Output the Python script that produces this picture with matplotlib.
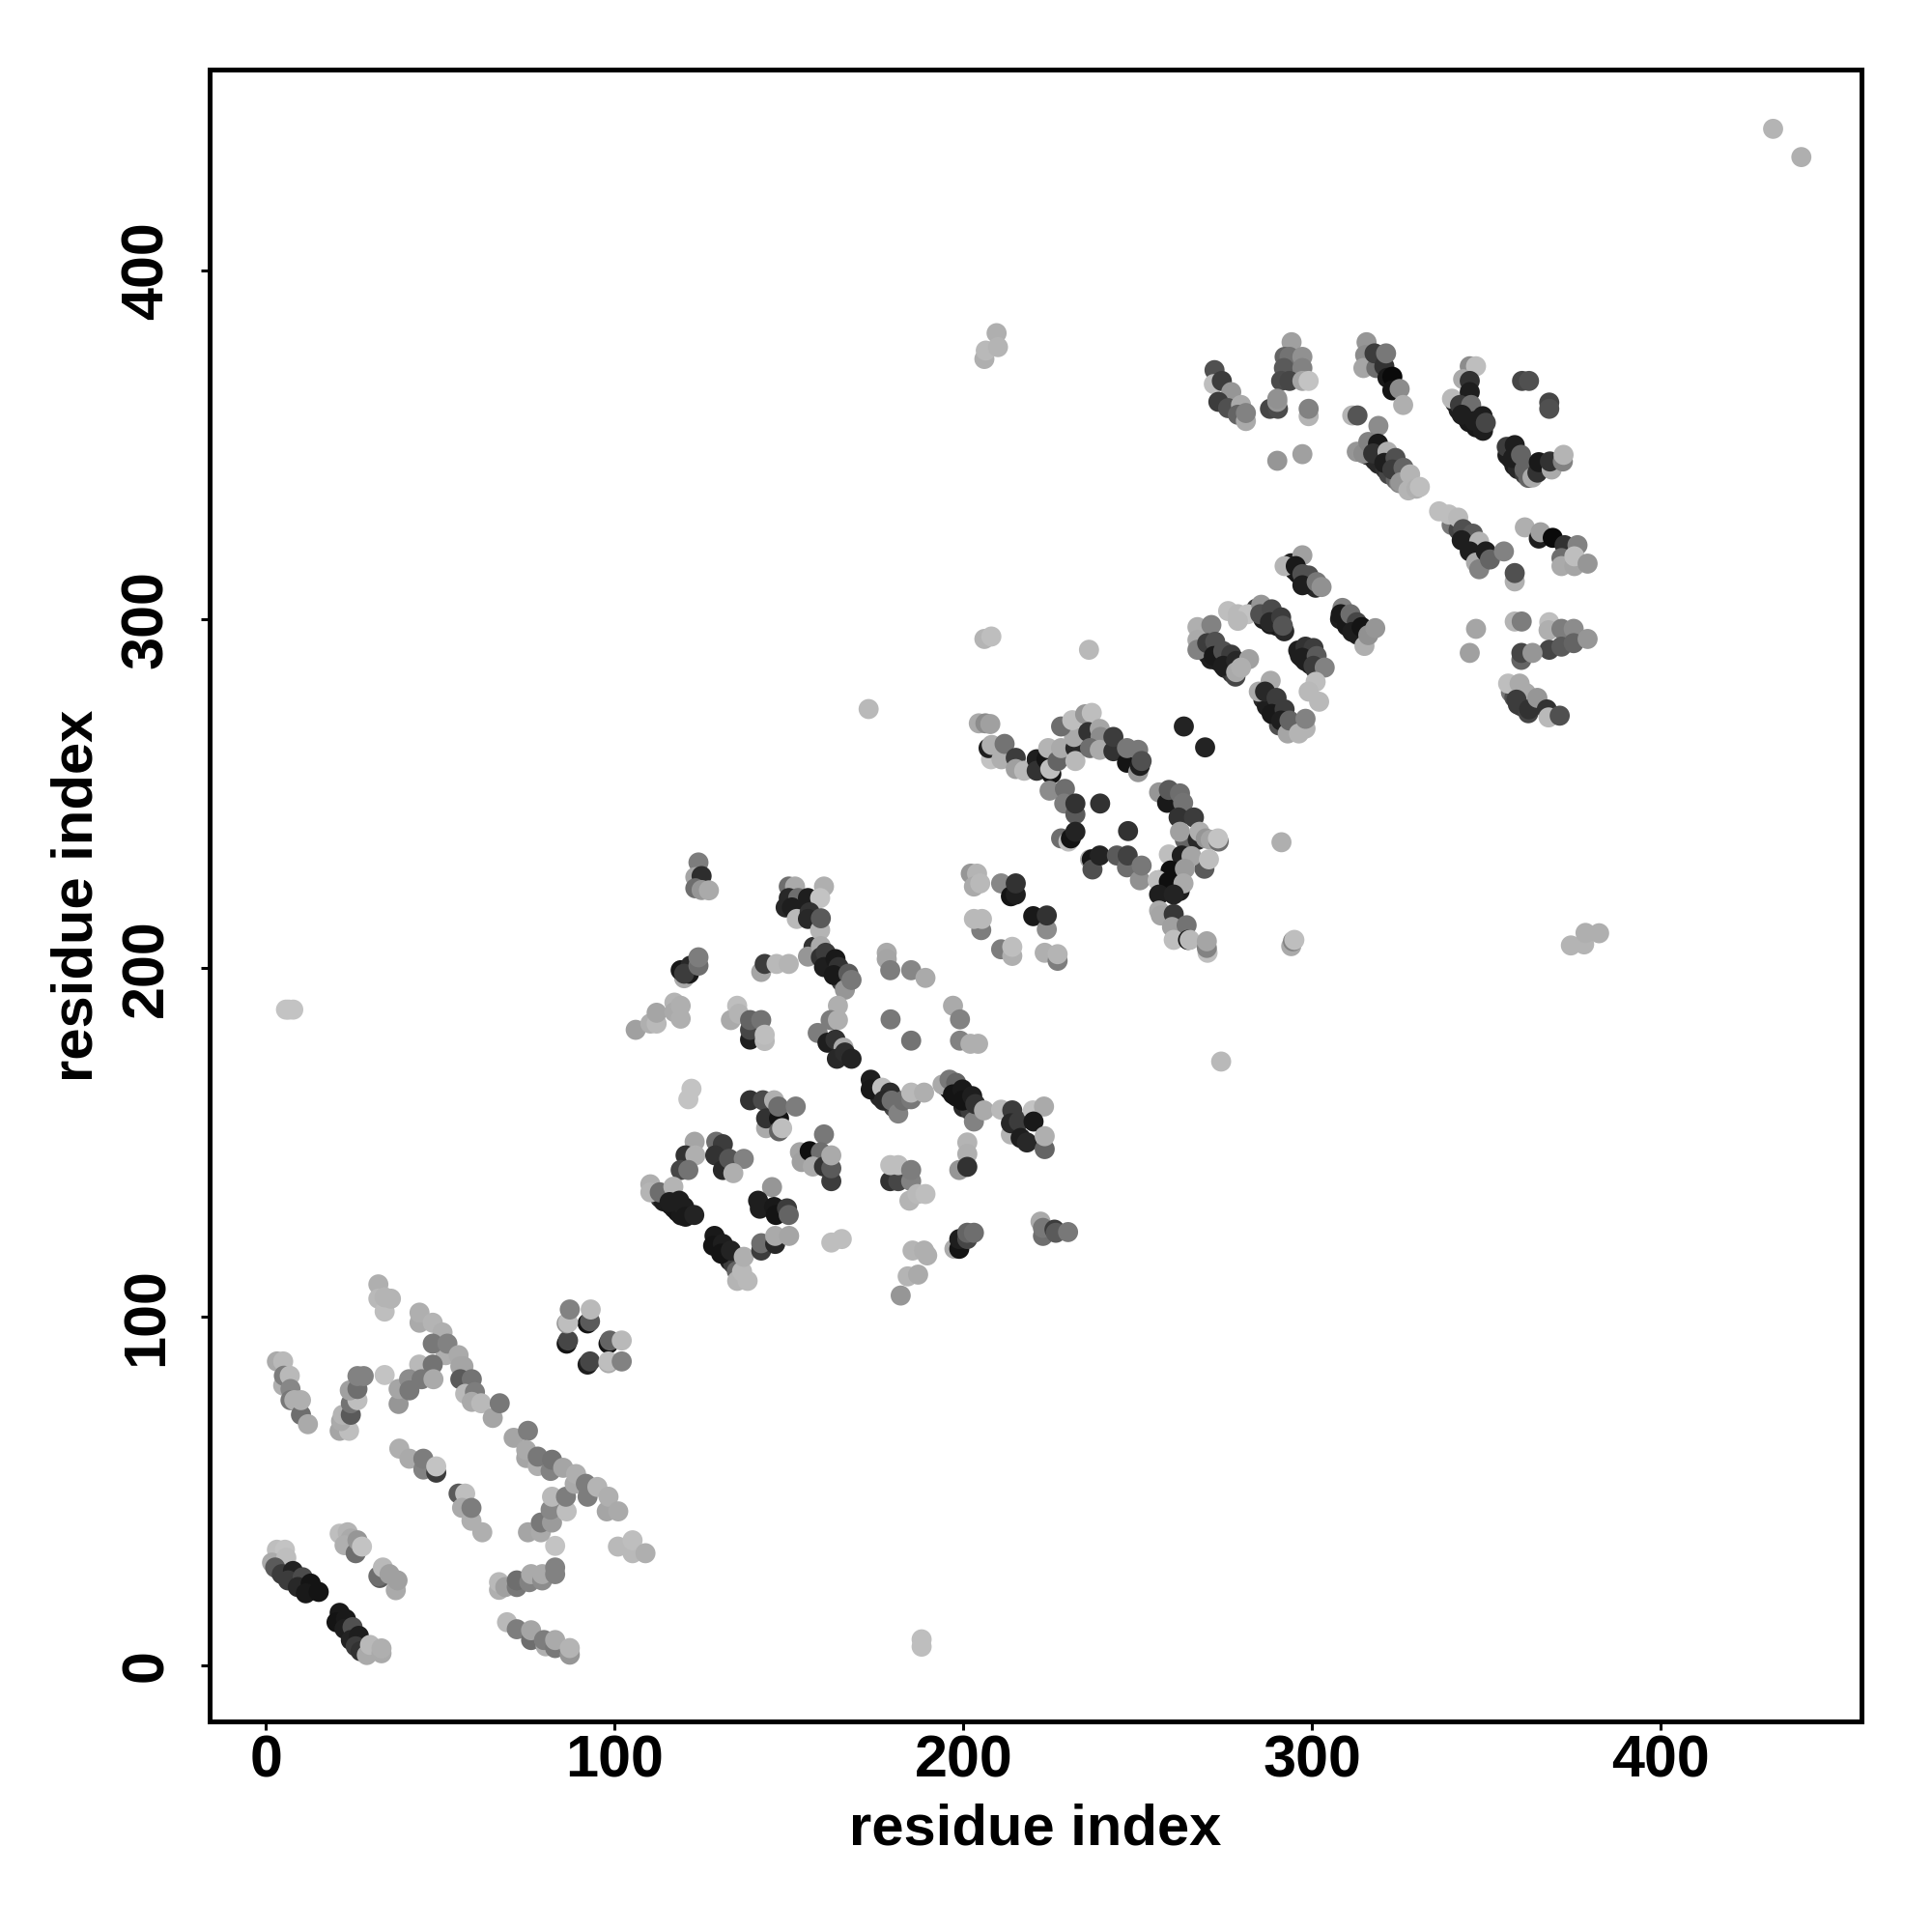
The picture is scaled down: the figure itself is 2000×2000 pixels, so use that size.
import numpy as np
import matplotlib
matplotlib.use("Agg")
import matplotlib.pyplot as plt

plt.rcParams["font.family"] = ["Liberation Sans", "DejaVu Sans"]

# contacts as (residue i, residue j, grey level), drawn in order
band_under = [(3.5,27.5,40),(5,28,50),(6,26,30),(7,25,30),(8,24,25),(10,23,20),(12,22,20),(13.5,21.5,20),(21.5,13,20),(23,11.5,25),(24,9.5,25),(25,7.5,30),(26,6,40),(27,5,60),
              (113,134,50),(114,133,30),(116,132,25),(117,131,25),(118,130,20),(119,129,25),(129,122,25),(130,120,20),(131,119,25),(132,117.5,30),(133,116,30),(134,115,60),(135,113,100),
              (157,206,50),(158,204,40),(161,201,30),(162,199.5,30),(164,198,40),(165,196,60),(166,195,90),(174,166,30),(175,165,40),(176,163,40),(178,162.5,50),(180,160,70),(195,166,30),(196,165,25),(198,163,25),(200,160,40),(202,159,60),
              (294,316,30),(295,314,25),(296,313,25),(298,311,30),(299,310,30),(301,309,40),(284,303,60),(286,300,30),(288,298.5,25),(290,298,25),(292,296.5,40),(308,300,30),(309,299.5,30),(310,298,25),(312,296.5,25),(313,295.5,30),
              (296,291,30),(296.5,289.5,30),(298,288,30),(299.5,287,30),(301,285.5,50),(268,292,40),(269,291,30),(270,290,30),(271,288.5,30),(273,288,30),(275,286,30),(277,284.5,50),(278,283.5,70),
              (286,277,40),(287,275,30),(288,274,30),(289,272.5,30),(291,272,40),(290.5,269.5,80),(316,347,50),(318,345.5,40),(319,344.5,40),(321,343,50),(322,341.5,70),(324,340,100),(325,339,130),
              (341,362,40),(342,360,30),(344,358,30),(345,356.5,25),(347,355,25),(349,354,30),(356,347,30),(357,346,30),(358,344,30),(359,343,40),(361,341.5,60),(362,340.5,100),
              (340,327,120),(342,325.5,70),(344,324,40),(345,322.5,30),(346,321,30),(347,319.5,30),(348,318,50),(349,316.5,70),(357,279,120),(358,277.5,80),(359,275.5,60),(360,275,60),(362,273,70),(258,223,25),(260,224,20),(262,222,30),(259.5,226,20)]
low_a = [(3.1,33.1,190),(5.4,33.1,195),(1.7,29.4,170),(5.8,30.8,190),(2.6,28,90),(4.5,26.1,60),(7.7,27,35),(6.3,24.3,60),(10.5,25.2,75),(9.1,22.4,40),(12.8,23.4,20),(11.4,20.6,25),(15.1,21,20)]
low_b = [(21.1,15,25),(20.2,12.3,20),(22.9,13.2,25),(22.5,10.4,30),(24.8,10.9,80),(24.3,7.2,35),(26.6,8.4,30),(25.7,5.4,60),(27.1,4,50),(28.9,2.9,170),(29.8,5.8,185),(33.1,3.4,170),(33.1,4.8,175)]
low_c = [(21.1,37.7,190),(23.4,38.1,180),(24.3,36.3,170),(22.5,34.4,175),(25.7,32.1,110),(26.2,35.8,150),(27.5,34,195)]
low_d = [(32.6,25,90),(32.2,25.5,110),(33.5,28,185),(35.4,26.1,160),(37.2,21.5,170),(37.7,24.3,160)]
low_e = [(69.1,12.3,185),(71.9,10.3,125),(76,7.2,110),(76,10,165),(80.2,5.4,175),(79.7,7.2,125),(82.9,4.9,120),(82.9,7.2,170),(87.1,3,150),(87.1,4.9,180)]
low_f = [(66.8,21.6,175),(66.8,23.8,185),(68.6,22.4,160),(71.9,22.4,120),(71.9,24.3,110),(75.5,23.8,130),(76,26.1,170),(79.2,24.3,140),(79.2,26.1,170),(82.9,28,130),(82.9,26.1,130),(82.9,34.2,195)]
low_g = [(75.1,38.1,165),(78.8,38.1,170),(78.8,40.9,120),(82,40.9,155),(81.6,44.6,135),(86.2,44.1,190),(82,48.3,185),(86,48.3,125)]
low_h = [(38.2,62.1,175),(41.1,59.2,170),(45.1,56.1,130),(45.1,59.2,125),(48.8,55.2,60),(48.8,57,195)]
low_i = [(55.2,49.2,90),(57.1,49.2,190),(56.2,45.1,170),(58.9,41.4,175),(58.9,45.1,125),(62,38.1,175)]
low_j = [(71,65.2,165),(75.1,67.2,125),(74.6,59.4,165),(74.6,61.7,170),(77.9,57.1,175),(77.9,59.8,120),(81.6,55.7,130),(82,58.9,115),(85.2,56.6,165),(88.5,52,170),(88.9,54.8,175),(92.2,48.3,125),(91.7,52,125),(95,51.1,180),(97.7,44.1,165),(98.2,48.3,175),(101,44.1,170)]
low_k = [(100.9,34,185),(105.1,32.1,185),(105.1,35.8,190),(108.8,32.1,175)]
arm_a = [(3.1,87.1,170),(4.9,87.1,185),(4.9,80.2,175),(5.1,83,125),(6.8,83,185),(7,79.2,135),(7,76,120),(8.1,76,175),(10,71.8,110),(10,76,175),(12,69.1,170)]
arm_b = [(21.1,67.2,165),(23.8,67.2,190),(21.5,70,170),(22,71.8,180),(24.3,71.8,90),(24.3,75.1,115),(26.2,76,190),(24,78.8,160),(26.2,79.2,110),(26.2,82.9,130),(28,82.9,130),(34,83.2,195)]
arm_c = [(32.2,109.2,175),(32.2,105.1,185),(34,101.4,190),(34,105.5,180),(35.8,105.1,180)]
arm_d = [(44,98.2,170),(44,101.1,175),(47.8,98.2,180),(50.6,95.4,175),(51.5,88.9,175),(47.8,92.2,120),(52,92.2,130),(55.2,88.9,170),(43.9,86.2,185),(47.8,86.2,115),(38,74.9,150),(38,79.2,165),(41,82,140),(41.1,78.8,120),(44.6,82,120),(48,82,170)]
arm_e = [(55.7,85.7,165),(56.6,85.7,165),(55.7,82,90),(59,82,115),(57.1,77.8,185),(59.9,78.3,125),(59,75.5,170),(61.7,75.1,185),(65,70.9,165),(67,75.1,120)]
arm_f = [(86.2,92.2,20),(86.6,93.1,70),(92.2,98,20),(92.9,98.6,90),(86.2,98,150),(86.6,98.2,190),(87.1,102,130),(93.1,102,185),(98.2,92.2,20),(98.6,93.1,100),(102,93.1,185),(92.2,86.2,30),(92.9,87.1,70),(98.2,86.6,170),(98.2,87.1,190),(102,87.1,130)]
lone = [(188,5.3,190),(188,7.4,190),(5.7,188,195),(6.5,188,195),(7.8,188,195),(432.2,440.6,180),(440.3,432.5,175),(172.8,274.2,185),(236,291.2,185),(291.2,236,175),(273.9,173.1,185),(206,374.6,175),(206.4,377,185),(209.5,382,175),(209.9,378,180),(206,294.3,180),(208,295,190),(374.2,206.4,180),(378,206.7,180),(378.4,210,175),(382.3,209.9,175)]

mid_a = [(124,230.2,125),(123.1,226,165),(124.9,226.3,45),(123.1,222.8,110),(124.9,222.3,150),(127,222.2,170)]
mid_b = [(149.9,223.3,110),(151.7,223.3,170),(149,217.3,40),(149.9,220,40),(152.6,220,110),(150.8,217.3,30),(155.4,220,30),(160,223.3,175),(158.9,220,195),(152.2,214,185),(155.9,215.9,50),(155.4,214,40),(158.9,210.8,180),(159.1,214.2,90)]
mid_c = [(119.9,197,170),(118.9,199.3,25),(121.3,198.3,25),(121.7,200.6,40),(119.9,198.3,60),(124,200.6,110),(124,203,125)]
mid_d = [(142,198.8,165),(143,201.1,60),(146.4,201.1,185),(149.9,201.1,180)]
mid_e = [(155.4,203.2,150),(159.1,206.2,170),(159.1,203,50),(160.5,204.3,60),(160,200.2,30),(163.3,202.5,25),(164.2,200.2,50),(162.8,197.9,25),(166,193.7,150),(167,198.3,90),(167.9,196.5,120)]
mid_f = [(178,204.3,170),(178,202.5,165),(179,199.3,125),(185,199.3,135),(189.1,197.1,170)]
mid_g = [(106,182.2,160),(110.2,184,175),(112,184,185),(112,187.1,165),(117.1,190,180),(117.1,187.3,170),(118.9,189.1,175),(118.9,185.4,175)]
mid_h = [(133.3,185,170),(135.1,189.1,190),(135.6,186.8,180),(138.8,179.4,30),(138.8,182.2,70),(138.8,185,100),(142,185,115),(143,179,185),(143,180.8,190)]
mid_i = [(164,189.1,175),(158.2,181.3,125),(161.9,185,125),(164,185,175),(161,178.5,30),(163.3,179.4,50),(165.6,177.1,170),(163.7,173.9,40),(166,175.7,45),(167.9,173.9,35)]
mid_j = [(179.1,185.2,120),(197,189.1,170),(199,185.2,130),(185,179.1,115),(199,179.1,130),(202,178.2,175),(204.2,178.2,175)]
mid_k = [(173.4,167.9,30),(173.4,165.1,25),(176.7,165.6,190),(179,164.2,45),(177.1,161.9,40),(179.4,161.9,110),(181.3,158.2,130),(182.7,161.9,110),(185,162.3,120),(185,164.2,185),(188.7,164.2,175)]
mid_l = [(194,166.5,170),(196,167.9,120),(197.9,167,100),(197,163.7,20),(199.7,165.1,25),(199.7,161.9,20),(202.5,163.2,30),(203,155.9,130),(203.4,160.9,50),(205.9,159.1,170)]
mid_m = [(210.8,159.3,185),(214,159.1,60),(213.6,152.2,180),(213.6,155.4,40),(215.9,155.9,60),(216.4,151.2,30),(219.9,159.1,195),(223.1,160.2,170),(220.1,155.9,25),(218.2,149.9,40),(223.3,148,100),(223.3,151.7,175)]
mid_n = [(122,165.3,195),(121.1,162.3,195)]
mid_o = [(138.8,162,50),(142.5,162,75),(145.7,162,175),(143.4,154,170),(143.4,156.8,50),(147.1,156.8,20),(146.9,160.2,110),(151.9,160.2,125),(147.1,153.1,100),(148,154,190)]
mid_p = [(122.9,150.1,165),(120.3,146.2,50),(123.1,146.2,175),(118.9,142,70),(121.1,142,115)]
mid_q = [(129.1,150.1,110),(131,149.4,60),(128.8,146.2,50),(131,142,40),(132.8,145.2,85),(137,145.2,130),(134,141.1,175)]
mid_r = [(160,152.2,120),(153.1,147.1,165),(153.6,144.3,160),(155.9,147.4,15),(159.1,147.1,110),(156.8,143,170),(160,143,50),(162.1,138.8,60),(162.1,142.5,90),(162.1,146.2,170)]
mid_s = [(179,138.8,50),(181.3,138.8,70),(179,143.4,190),(181.3,143.4,190),(185,138.8,130),(185,142,125),(184.5,133.2,180),(186.8,135.1,185),(189.1,135.1,190)]
mid_t = [(198.8,142,150),(201.1,149.9,180),(201.1,146.6,175),(201.1,142.9,50)]
mid_u = [(110.2,137.9,175),(110.2,135.6,180),(112.9,135.6,110),(116.8,137.2,180),(115.7,132.8,30),(118.5,133.2,30),(119.9,131.4,30),(120.3,128.6,25),(122.8,129.1,35)]
mid_v = [(128.6,123.1,25),(128.2,120.3,20),(131,120.8,30),(130.5,118,20),(133.3,118.9,35),(135.1,110.2,180),(136.5,112.9,185),(137,117.1,175),(138.1,110.2,185)]
mid_w = [(145.1,137.1,150),(141.1,133.2,30),(141.6,130.9,30),(145.7,131.4,25),(146.2,129.1,20),(149.4,131,60),(149.9,129.1,100)]
mid_x = [(142,118.9,60),(142,121,110),(146,120.8,40),(146,123.1,170),(150,123.1,165),(162.1,121.2,190),(165.1,122.2,190)]
mid_z = [(197.4,119.4,170),(198.8,119.4,20),(198.8,122.2,30),(201.1,122.2,70),(201.1,124,100),(203,124,110)]
mid_y = [(182,106,150),(184,111.5,180),(187,112,170),(185.4,118.9,180),(188.7,118.9,175),(189.6,117.5,175)]
mid_end = [(222.1,127.2,170),(222.8,123.1,110),(222.8,125.4,120),(226.1,124.9,60),(226.5,124,90),(230,124.2,120)]
sq_a = [(202.1,227,150),(203.9,227,180),(203,223.3,170),(204.8,224.2,185),(210.8,224.2,135),(213.6,220.5,20),(215,221,30),(215,224.2,50)]
sq_b = [(205.1,210.8,125),(203,214,185),(205.3,214,185),(220,214.8,25),(223.9,211,140),(223.9,215,50)]
sq_c = [(210.8,205.3,125),(214,203.4,175),(214,206,190),(223.3,204.3,175),(227,202,125),(227,203.9,180)]

ring_a = [(204.4,270.1,170),(206.3,270.1,140),(207.7,269.9,160),(207.9,259.8,195),(207.2,263,30),(208.1,263.9,175),(210.9,259.8,175),(211.8,264.2,115)]
ring_b = [(215,260.2,60),(215,257,160),(217.4,256.5,185),(221,259.8,30),(221,256.5,50),(223.8,259.8,20),(224.3,263,180),(225.2,255.6,20),(224.9,257,190),(227,259.3,100),(228,263,170),(232.1,263,40),(232.1,259.3,185),(231.7,266.2,170),(228,269.2,110),(231.2,271,190)]
ring_c = [(234.9,272.7,150),(236.8,273.1,190),(235.8,267.6,50),(239.1,268.5,165),(239.3,266.2,140),(236.3,263,110),(239.1,262.5,170),(243,262.1,50),(243,266.2,60),(246.9,258.8,20),(246.9,263,120),(250.1,256.1,150),(250.6,257.9,30),(250.1,262.5,120),(251.1,259.3,80),(263.2,269.2,35),(269.3,263.2,35)]
ring_d = [(224.7,250.8,140),(229.1,251.3,110),(228.9,247.1,125),(232.1,244,90),(232.1,247.1,50),(239.2,247.1,50),(247.2,239.2,50),(228,237.1,110),(230.1,236.2,190),(230.8,237.1,20),(232.1,239,35)]
ring_e = [(236.3,231.1,170),(236.8,231.1,20),(237,228.2,80),(239.1,232.2,35),(244,232.2,90),(246.9,228.8,110),(247.1,232.2,65),(250.6,225.1,145),(251.1,229.3,120)]
ring_f = [(256.1,250.3,150),(258.4,247.3,25),(258.9,251,90),(262.1,250,110),(263,247.3,115),(261.7,243.1,50),(266.1,243.1,60),(263.5,236.7,100),(262.1,239,160),(267.2,236.7,40),(267.7,239,175),(269.5,237.1,150),(270.9,236.7,165),(273.2,236.2,110),(273,237.1,195)]
ring_g = [(258.9,232.5,190),(262.6,232.2,30),(269.1,228.4,90),(265.4,232,165),(270.4,231.1,190),(259.4,227.9,15),(263.5,228.4,155),(256.1,225.1,20),(255.7,225.1,190),(258.9,224.7,15),(263.1,224.2,170),(256.1,221,30),(260.3,221,35),(256.1,216.4,170),(256.6,215,165),(260.3,215.4,55),(259.8,211.7,160),(264,212.2,115),(260.3,208,190),(264.4,208,20),(264.9,208,185),(270,204.3,190),(269.8,205.7,130),(269.8,207.6,165)]
ring_h = [(294,206.2,170),(294.5,207.6,130),(294.9,208,190)]

top_a = [(272,371.4,80),(271.8,367.4,190),(274.1,368.3,60),(276.8,365.1,150),(273.1,362.3,60),(275.9,360.5,80),(279.6,361.4,170),(278.7,358.6,100),(281,356.8,170),(281,359.1,130)]
top_b = [(294.1,379.4,160),(292.1,375.2,100),(293.5,375.2,115),(297.2,375.2,145),(291.9,372,90),(297.2,372,130),(291.1,368.3,75),(293.5,368.3,70),(297.2,368.3,165),(299,368.3,195),(287.9,360.3,70),(290.2,360.3,75),(290,362.3,150),(290,363.2,145),(299,358.2,180),(299,360.3,130),(290,345.4,150),(297.2,347.3,160)]
top_c = [(315.6,379.4,150),(315.2,375.7,140),(314.7,372,165),(318.4,372,110),(317.9,376.2,60),(320.7,372.5,50),(321.2,376.2,120),(321.6,369.2,25),(323,369.5,10),(323,365.6,20),(325.1,366,140),(326.1,361.4,175),(311.5,358.4,180),(313,358.4,85),(319,355.4,140)]
top_d = [(312.8,348,150),(314.7,347.5,140),(316.1,350.8,130),(318.9,350.3,25),(317.5,347.5,50),(321.6,348,175),(320.7,344.8,30),(323.9,346.2,80),(323,342.9,60),(326.2,343.4,100),(325.3,339.2,150),(328.1,341.5,180),(327.6,336.9,180),(329.9,337.4,175),(330.9,337.9,190)]
top_e = [(345.2,372.5,140),(347,372.5,190),(340.1,363.2,185),(343.3,368.8,170),(345.2,368.3,50),(345.2,365.1,30),(342.4,361.4,60),(345.6,361.4,110),(342.9,358.6,30),(346.6,356.8,30),(348.9,358.2,30),(349.8,356.3,70)]
top_f = [(360.2,368.3,70),(362.2,368.3,80),(368,362.1,70),(368,360.3,80)]
top_g = [(355.8,349.4,60),(358.1,349.9,30),(357.6,346.2,30),(359.9,347.1,100),(360.9,342.9,100),(363.2,340.6,170),(364.6,342,50),(365,345,25),(368.7,342.9,170),(368.2,345.2,50),(371.9,345.2,130),(372.1,347.1,180)]
top_h = [(336.4,330.9,190),(339.2,330,190),(341.9,329.1,185),(343.3,325.8,80),(346.1,324.5,90),(342.9,322.6,30),(347.9,322.2,180),(345.2,319.4,30),(347,316.2,170),(347.9,314.3,130),(349.8,319.4,30),(351,317.1,100),(355,319.4,130),(358.1,310.8,175),(358.1,313.2,80)]
top_i = [(361,326.3,175),(365,323.1,30),(365.5,324.9,160),(369,323.3,10),(372.4,321.2,50),(376.1,321.2,130),(371.5,317.5,110),(371.5,315.2,170),(375.2,315.2,165),(375.2,318,190),(379,315.9,150)]
top_j = [(347,297.2,165),(345.2,290.3,160),(358.1,299.3,180),(360.1,299.3,125),(368,299.1,190),(367.8,296.8,175),(371.5,297.2,125),(375,297.2,140),(368,291.2,70),(371.5,292.1,90),(375,293.1,100),(379,294.3,150),(360,288.3,100),(360,290.3,70),(363.2,290.3,150)]
top_k = [(356.2,281.5,190),(359.5,281.5,170),(361.3,278.8,170),(358.6,276.9,60),(362.2,274.1,50),(364.6,277.4,150),(367.3,274.1,50),(367.8,271.8,185),(371,272.3,80)]
hel_a = [(292.1,315.2,180),(297.2,318.3,160),(295.3,315.2,25),(297.2,312.9,80),(299,312.5,80),(297.2,309.7,30),(301.3,310.6,120),(302.7,309.2,145)]
hel_b = [(275.9,302.3,190),(278.7,301.4,185),(281.5,301.4,195),(278.7,299.5,185),(285.4,304.1,150),(285.1,301.4,80),(288.4,302.8,75),(287.9,299.1,40),(291.1,300.5,60),(291.6,298.1,85)]
hel_c = [(308.7,303.2,130),(308.2,301.4,25),(311,301.4,110),(312.8,299.1,70),(311.5,296.3,30),(315,292.3,175),(314.2,297.7,20),(316.1,295.4,145),(318.1,297.4,150)]
hel_d = [(298.1,292.1,50),(300.4,291.7,60),(297.2,288.9,30),(301.3,289.4,90),(300.4,286.6,60),(303.6,286.1,130),(301,282,190),(299,279.2,185),(302,276.3,185)]
hel_e = [(267.1,297.7,175),(271.1,298.3,130),(267.1,294,170),(267.1,291.2,130),(269.9,293.1,60),(272.2,293.5,80),(271.8,289.4,25),(274.5,290.8,80),(276.8,289.8,60),(274.5,286.6,30),(278.2,288,40),(278.2,284.8,170),(281.9,288.5,160),(279.6,286.1,175)]
hel_f = [(288.1,282.3,170),(284.7,279.2,170),(286.5,279.2,40),(289.8,277.4,60),(288.4,272.8,25),(292.1,274.1,60),(291.1,270.9,30),(293,267.2,165),(293.5,270.9,100),(296.2,267.2,180),(298.1,268.6,180),(298.1,271.4,130)]

contact_groups = [
    band_under,
    low_a, low_b, low_c, low_d, low_e, low_f, low_g, low_h, low_i, low_j, low_k,
    arm_a, arm_b, arm_c, arm_d, arm_e, arm_f, lone,
    mid_a, mid_b, mid_c, mid_d, mid_e, mid_f, mid_g, mid_h, mid_i, mid_j, mid_k, mid_l, mid_m,
    mid_n, mid_o, mid_p, mid_q, mid_r, mid_s, mid_t, mid_u, mid_v, mid_w, mid_x, mid_z, mid_y, mid_end,
    sq_a, sq_b, sq_c,
    ring_a, ring_b, ring_c, ring_d, ring_e, ring_f, ring_g, ring_h,
    top_a, top_b, top_c, top_d, top_e, top_f, top_g, top_h, top_i, top_j, top_k,
    hel_a, hel_b, hel_c, hel_d, hel_e, hel_f,
]

x_ticks = [0, 100, 200, 300, 400]
y_ticks = [0, 100, 200, 300, 400]
axis_label = "residue index"

points = np.array([p for group in contact_groups for p in group], dtype=float)
greys = np.repeat(points[:, 2:3] / 255.0, 3, axis=1)

fig = plt.figure(figsize=(10, 10), dpi=200)
ax = fig.add_axes([0.1084, 0.1088, 0.8552, 0.8552])
ax.scatter(points[:, 0], points[:, 1], s=56, c=greys, linewidths=0, zorder=3)

ax.set_xlim(-16.25, 457.6)
ax.set_ylim(-16.25, 457.6)
ax.set_xticks(x_ticks)
ax.set_yticks(y_ticks)
ax.tick_params(axis="both", length=3.2, width=1.1, labelsize=22)
ax.tick_params(axis="x", pad=1.5)
ax.tick_params(axis="y", pad=9.6)
for lab in ax.get_xticklabels() + ax.get_yticklabels():
    lab.set_fontweight("bold")
for lab in ax.get_yticklabels():
    lab.set_rotation(90)
    lab.set_verticalalignment("center")
for spine in ax.spines.values():
    spine.set_linewidth(1.8)
ax.set_xlabel(axis_label, fontsize=21.5, fontweight="bold", labelpad=5)
ax.set_ylabel(axis_label, fontsize=21.5, fontweight="bold", labelpad=6)

fig.savefig("out.png", dpi=200, facecolor="white")
